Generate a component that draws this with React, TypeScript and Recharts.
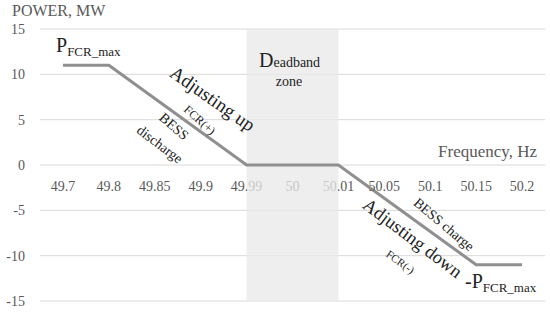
import { LineChart, Line, XAxis, YAxis, CartesianGrid, ReferenceArea } from 'recharts'

const FREQS = ['49.7', '49.8', '49.85', '49.9', '49.99', '50', '50.01', '50.05', '50.1', '50.15', '50.2']
const POWER = [11, 11, 7.33, 3.67, 0, 0, 0, -3.67, -7.33, -11, -11]
const Y_TICKS = [-15, -10, -5, 0, 5, 10, 15]
const DEADBAND = ['49.99', '50.01']

const FONT = '"Liberation Serif", "DejaVu Serif", serif'
const GREY = '#595959'
const FADED = '#c8c8c8' // tick text seen through the deadband shading

const data = FREQS.map((f, i) => ({ f, p: POWER[i] }))

// x labels sit on the zero line, Excel style; the ones under the deadband look washed out
function FreqTick(props: any) {
  const { x, payload, index } = props
  const v = String(payload.value)
  const lo = FREQS.indexOf(DEADBAND[0])
  const hi = FREQS.indexOf(DEADBAND[1])
  const i = FREQS.indexOf(v)
  let fill = GREY
  let grad: any = null
  if (i === lo || i === hi) {
    const id = 'tg' + index
    const [a, b] = i === lo ? [GREY, FADED] : [FADED, GREY]
    grad = (
      <defs>
        <linearGradient id={id} gradientUnits="userSpaceOnUse" x1={x - 30} x2={x + 30} y1={0} y2={0}>
          <stop offset="0.5" stopColor={a} />
          <stop offset="0.5" stopColor={b} />
        </linearGradient>
      </defs>
    )
    fill = `url(#${id})`
  } else if (i > lo && i < hi) {
    fill = FADED
  }
  return (
    <g>
      {grad}
      <text x={x} y={191} textAnchor="middle" fill={fill} fontSize={14} fontFamily={FONT}>
        {v}
      </text>
    </g>
  )
}

// area spans from the 49.99 point to the 50.01 point, not whole bands
function DeadbandShape(props: any) {
  const { x, y, width, height } = props
  const half = width / 6
  return <rect x={x + half} y={y} width={width - 2 * half} height={height} fill="#e9e9e9" fillOpacity={0.77} />
}

function Notes() {
  const t = { fontFamily: FONT, fill: '#222' }
  return (
    <svg width={550} height={312} style={{ position: 'absolute', left: 0, top: 0, pointerEvents: 'none' }}>
      <text x={12} y={16} fontSize={16} fontFamily={FONT} fill={GREY}>POWER, MW</text>
      <text x={56} y={52} fontSize={20} {...t}>
        P<tspan fontSize={13} dy={4}>FCR_max</tspan>
      </text>
      <text x={209} y={104} fontSize={19} textAnchor="middle" transform="rotate(35 209 104)" {...t}>Adjusting up</text>
      <text x={197} y={123} fontSize={12} textAnchor="middle" transform="rotate(42 197 123)" {...t}>FCR(+)</text>
      <text x={171} y={130} fontSize={14} textAnchor="middle" transform="rotate(41 171 130)" {...t}>BESS</text>
      <text x={157} y={148} fontSize={14} textAnchor="middle" transform="rotate(37 157 148)" {...t}>discharge</text>
      <text x={259} y={67} fontSize={14} {...t}>
        <tspan fontSize={20}>D</tspan>eadband
      </text>
      <text x={289} y={86} fontSize={14} textAnchor="middle" {...t}>zone</text>
      <text x={537} y={157} fontSize={17} textAnchor="end" fontFamily={FONT} fill={GREY}>Frequency, Hz</text>
      <text x={409} y={243} fontSize={18.5} textAnchor="middle" transform="rotate(37 409 243)" {...t}>Adjusting down</text>
      <text x={441} y={228} fontSize={14} textAnchor="middle" transform="rotate(40 441 228)" {...t}>BESS charge</text>
      <text x={398} y={265} fontSize={11} textAnchor="middle" transform="rotate(36 398 265)" {...t}>FCR(-)</text>
      <text x={465} y={288} fontSize={20} {...t}>
        -P<tspan fontSize={13} dy={4}>FCR_max</tspan>
      </text>
    </svg>
  )
}

export default function App() {
  return (
    <div style={{ position: 'absolute', left: 0, top: 0, width: 550, height: 312, background: '#fff' }}>
      <LineChart width={550} height={312} data={data} margin={{ top: 29, right: 5, bottom: 10, left: 0 }}>
        <CartesianGrid vertical={false} stroke="#d9d9d9" />
        <XAxis
          dataKey="f"
          scale="band"
          height={1}
          axisLine={false}
          tickLine={false}
          interval={0}
          tick={(p: any) => <FreqTick {...p} />}
        />
        <YAxis
          domain={[-15, 15]}
          ticks={Y_TICKS}
          width={40}
          axisLine={false}
          tickLine={false}
          tickMargin={9}
          tick={{ fill: GREY, fontSize: 14, fontFamily: FONT }}
        />
        <ReferenceArea
          x1={DEADBAND[0]}
          x2={DEADBAND[1]}
          y1={-15}
          y2={15}
          shape={(p: any) => <DeadbandShape {...p} />}
        />
        <Line
          dataKey="p"
          stroke="#8f8f8f"
          strokeWidth={3}
          dot={false}
          isAnimationActive={false}
        />
      </LineChart>
      <Notes />
    </div>
  )
}
